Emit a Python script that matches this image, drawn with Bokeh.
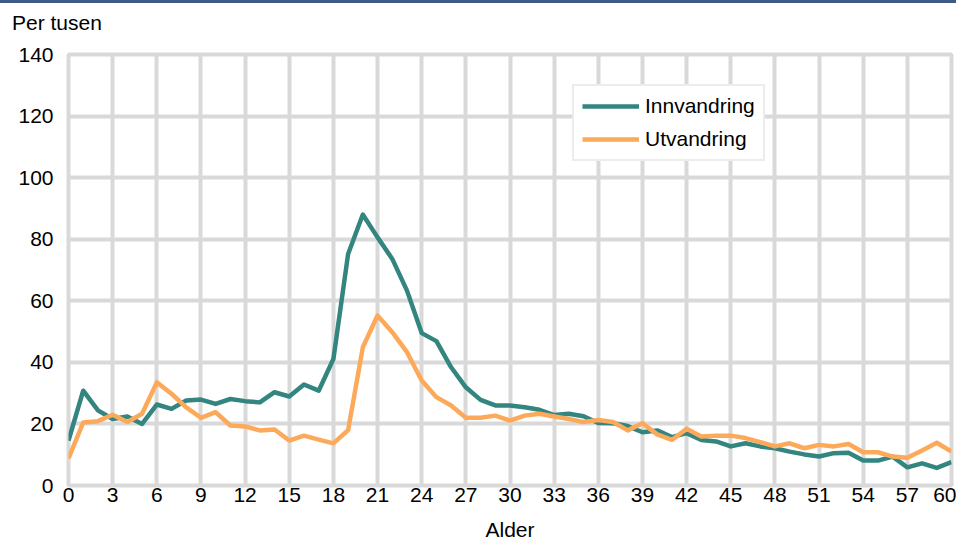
from bokeh.plotting import figure
from bokeh.models import (Range1d, FixedTicker, Legend, LegendItem, Div, ColumnDataSource)
from bokeh.layouts import column
from bokeh.embed import file_html
from bokeh.resources import INLINE

ages = list(range(0, 61))
innvandring = [14.6, 30.8, 24.4, 21.6, 22.4, 20.0, 26.3, 24.9, 27.6, 27.9,
               26.5, 28.1, 27.4, 27.0, 30.3, 28.9, 32.8, 30.8, 41.1, 75.2,
               88.0, 80.6, 73.6, 63.3, 49.5, 46.9, 38.4, 31.9, 27.8, 26.0,
               26.0, 25.4, 24.6, 22.9, 23.3, 22.5, 20.3, 20.2, 19.3, 17.3,
               17.9, 15.7, 17.0, 14.8, 14.3, 12.7, 13.7, 12.7, 12.1, 11.0,
               10.1, 9.4, 10.5, 10.6, 8.1, 8.1, 9.4, 5.9, 7.2, 5.7, 7.6]
utvandring = [8.8, 20.5, 20.9, 23.0, 20.6, 23.3, 33.5, 29.8, 25.4, 22.0,
              23.8, 19.5, 19.2, 17.9, 18.2, 14.6, 16.2, 14.9, 13.7, 18.0,
              44.9, 55.2, 49.8, 43.3, 34.1, 28.7, 26.0, 22.0, 22.0, 22.7,
              21.1, 22.7, 23.3, 22.4, 21.6, 20.6, 21.3, 20.6, 17.9, 20.2,
              16.6, 14.8, 18.4, 15.9, 16.2, 16.2, 15.4, 14.1, 12.7, 13.7,
              12.1, 13.2, 12.7, 13.5, 10.8, 10.8, 9.4, 9.0, 11.4, 13.9, 11.0]
x_ticks = list(range(0, 61, 3))
y_ticks = list(range(0, 141, 20))
series_names = ["Innvandring", "Utvandring"]
colors = ["#338580", "#fda95a"]
y_unit = "Per tusen"

FONT = "Liberation Sans"
FS = "21px"
GRID = "#d9d9d9"

src = ColumnDataSource(dict(alder=ages, inn=innvandring, ut=utvandring))

p = figure(width=956, height=510, output_backend="svg", toolbar_location=None,
           x_range=Range1d(0, 60), y_range=Range1d(0, 140),
           min_border_left=68, min_border_right=5, min_border_top=14, min_border_bottom=65)

p.background_fill_color = "white"
p.border_fill_color = "white"
p.outline_line_color = GRID
p.outline_line_width = 4

for ax, ticks in ((p.xaxis[0], x_ticks), (p.yaxis[0], y_ticks)):
    ax.ticker = FixedTicker(ticks=ticks)
    ax.axis_line_color = None
    ax.major_tick_line_color = None
    ax.minor_tick_line_color = None
    ax.major_tick_in = 0
    ax.major_tick_out = 0
    ax.major_label_text_font = FONT
    ax.major_label_text_font_size = FS
    ax.major_label_text_color = "#000000"

p.xaxis.major_label_standoff = 2
p.yaxis.major_label_standoff = 15
p.xaxis.axis_label = "Alder"
p.xaxis.axis_label_text_font = FONT
p.xaxis.axis_label_text_font_size = FS
p.xaxis.axis_label_text_font_style = "normal"
p.xaxis.axis_label_text_color = "#000000"
p.xaxis.axis_label_standoff = 13

p.xgrid.grid_line_color = GRID
p.xgrid.grid_line_width = 4
p.ygrid.grid_line_color = GRID
p.ygrid.grid_line_width = 4

r1 = p.line("alder", "inn", source=src, line_color=colors[0], line_width=4.5, line_join="round")
r2 = p.line("alder", "ut", source=src, line_color=colors[1], line_width=4.5, line_join="round")

legend = Legend(items=[LegendItem(label=series_names[0], renderers=[r1]),
                       LegendItem(label=series_names[1], renderers=[r2])],
                location=(504, 324), orientation="vertical")
legend.label_text_font = FONT
legend.label_text_font_size = FS
legend.label_text_color = "#000000"
legend.glyph_width = 57
legend.glyph_height = 22
legend.label_height = 22
legend.label_standoff = 6
legend.spacing = 9
legend.padding = 8
legend.margin = 0
legend.border_line_color = GRID
legend.border_line_width = 2
legend.background_fill_alpha = 1.0
p.add_layout(legend, "center")

header_html = (
    '<div style="height:3px;width:956px;background:#3f5a8a"></div>'
    '<div style="font-family:\'Liberation Sans\';font-size:21px;line-height:24px;'
    'color:#000;padding-left:12px;margin-top:8px">' + y_unit + '</div>'
)
header = Div(text=header_html, width=956, height=40, margin=(0, 0, 0, 0))
layout = column(header, p, spacing=0)

open("out.html", "w").write(file_html(layout, INLINE))
